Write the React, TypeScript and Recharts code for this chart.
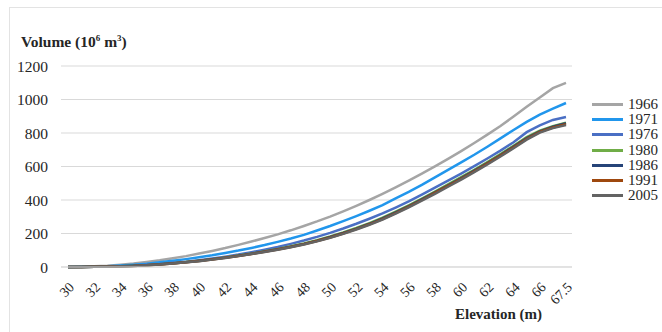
import { CartesianGrid, Legend, Line, LineChart, XAxis, YAxis } from "recharts";

const ELEVATIONS = [
  "30", "31", "32", "33", "34", "35", "36", "37", "38", "39",
  "40", "41", "42", "43", "44", "45", "46", "47", "48", "49",
  "50", "51", "52", "53", "54", "55", "56", "57", "58", "59",
  "60", "61", "62", "63", "64", "65", "66", "67", "67.5",
];

const VOL_1966 = [
  0, 1.5, 4, 8, 14, 21, 30, 40, 52, 65,
  80, 96, 113, 132, 152, 173, 195, 219, 245, 272,
  301, 332, 365, 400, 437, 476, 516, 558, 601, 646,
  692, 740, 790, 842, 898, 956, 1012, 1068, 1099,
];
const VOL_1971 = [
  0, 1, 3, 5, 9, 14, 20, 28, 37, 47,
  58, 70, 84, 98, 114, 131, 150, 170, 192, 218,
  245, 274, 304, 336, 370, 410, 448, 490, 535, 580,
  625, 670, 718, 768, 818, 866, 910, 945, 979,
];
const VOL_1976 = [
  0, 0.5, 1.5, 3, 5, 8, 13, 18, 25, 32,
  41, 51, 62, 74, 88, 103, 119, 138, 158, 180,
  204, 230, 258, 288, 320, 355, 392, 432, 474, 516,
  558, 602, 648, 695, 745, 805, 845, 878, 896,
];
const VOL_1980 = [
  0, 0.5, 1, 2, 4, 7, 11, 16, 23, 30,
  38, 47, 57, 68, 80, 94, 108, 124, 141, 160,
  182, 206, 233, 262, 294, 330, 368, 408, 450, 493,
  536, 580, 626, 674, 724, 775, 814, 841, 862,
];
const VOL_1986 = [
  0, 0.5, 1, 2, 4, 7, 11, 16, 22, 29,
  37, 46, 56, 67, 79, 92, 106, 121, 138, 157,
  179, 203, 229, 258, 290, 326, 364, 404, 446, 488,
  531, 575, 621, 669, 719, 770, 810, 838, 858,
];
const VOL_1991 = [
  0, 0.5, 1, 2, 4, 6, 10, 15, 21, 28,
  36, 45, 55, 66, 78, 91, 105, 120, 136, 155,
  176, 200, 226, 255, 286, 322, 360, 400, 442, 484,
  527, 571, 617, 665, 714, 765, 806, 833, 852,
];
const VOL_2005 = [
  0, 0.5, 1, 2, 4, 6, 10, 15, 21, 28,
  35, 44, 54, 65, 77, 90, 103, 118, 134, 153,
  174, 198, 224, 252, 283, 318, 356, 396, 437, 479,
  522, 566, 612, 660, 709, 760, 802, 829, 847,
];

const Y_TICKS = [0, 200, 400, 600, 800, 1000, 1200];

const SERIES = [
  { key: "1966", values: VOL_1966, color: "#A5A5A5" },
  { key: "1971", values: VOL_1971, color: "#2196EC" },
  { key: "1976", values: VOL_1976, color: "#4A6FC4" },
  { key: "1980", values: VOL_1980, color: "#70AD47" },
  { key: "1986", values: VOL_1986, color: "#264478" },
  { key: "1991", values: VOL_1991, color: "#9E480E" },
  { key: "2005", values: VOL_2005, color: "#636363" },
];

const data = ELEVATIONS.map((elevation, i) => {
  const row: Record<string, string | number> = { elevation };
  SERIES.forEach((s) => {
    row[s.key] = s.values[i];
  });
  return row;
});

const FONT = '"Liberation Serif", "Times New Roman", serif';
const TEXT = "#262626";

function LegendContent() {
  return (
    <div style={{ fontFamily: FONT, fontSize: 15, color: TEXT }}>
      {SERIES.map((s) => (
        <div key={s.key} style={{ display: "flex", alignItems: "center", height: 15.2 }}>
          <span style={{ width: 31, height: 3, background: s.color, marginRight: 5 }} />
          <span style={{ lineHeight: "15px" }}>{s.key}</span>
        </div>
      ))}
    </div>
  );
}

export default function App() {
  return (
    <div style={{ position: "absolute", left: 0, top: 0, width: 662, height: 332, background: "#fff", overflow: "hidden" }}>
      <div
        style={{
          position: "absolute",
          left: 9,
          top: 7,
          width: 670,
          height: 340,
          border: "1px solid #E3E3E3",
        }}
      />
      <LineChart width={662} height={332} data={data} margin={{ top: 66, right: 90, bottom: 0, left: 0 }}>
        <CartesianGrid vertical={false} stroke="#D9D9D9" />
        <XAxis
          dataKey="elevation"
          interval={1}
          height={65}
          padding={{ left: 7, right: 6 }}
          tickLine={false}
          axisLine={{ stroke: "#D9D9D9" }}
          tickMargin={8}
          angle={-45}
          textAnchor="end"
          tick={{ fontFamily: FONT, fontSize: 14, fill: TEXT }}
        />
        <YAxis
          width={61}
          domain={[0, 1200]}
          ticks={Y_TICKS}
          tickLine={false}
          axisLine={false}
          tickMargin={7}
          tick={{ fontFamily: FONT, fontSize: 15.5, fill: TEXT }}
        />
        <Legend
          layout="vertical"
          align="center"
          verticalAlign="middle"
          wrapperStyle={{ left: 592, top: 97, width: 70 }}
          content={LegendContent}
        />
        {SERIES.map((s) => (
          <Line
            key={s.key}
            dataKey={s.key}
            stroke={s.color}
            strokeWidth={2.5}
            dot={false}
            type="linear"
            isAnimationActive={false}
          />
        ))}
      </LineChart>
      <div
        style={{
          position: "absolute",
          left: 21,
          top: 33,
          fontFamily: FONT,
          fontSize: 15.5,
          fontWeight: "bold",
          color: TEXT,
          whiteSpace: "nowrap",
        }}
      >
        Volume (10<sup style={{ fontSize: 9 }}>6</sup> m<sup style={{ fontSize: 9 }}>3</sup>)
      </div>
      <div
        style={{
          position: "absolute",
          left: 455,
          top: 306,
          fontFamily: FONT,
          fontSize: 15,
          fontWeight: "bold",
          color: TEXT,
          whiteSpace: "nowrap",
        }}
      >
        Elevation (m)
      </div>
    </div>
  );
}
